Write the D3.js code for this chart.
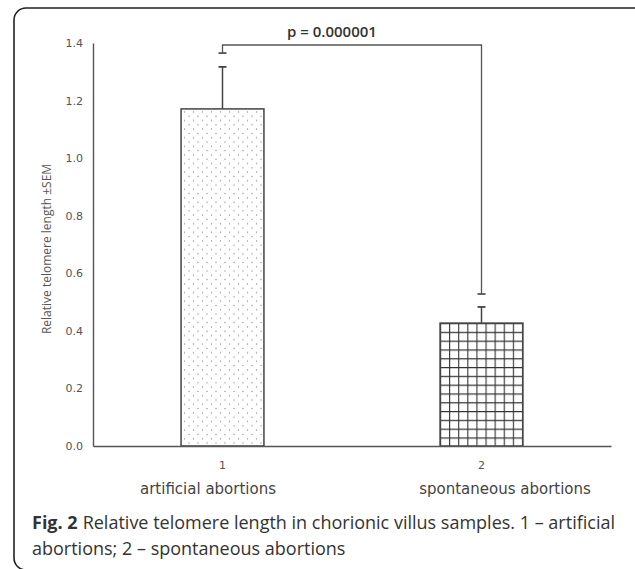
<!DOCTYPE html>
<html>
<head>
<meta charset="utf-8">
<script src="https://cdn.jsdelivr.net/npm/d3@7"></script>
<style>
  body { margin: 0; background: #fff; }
  svg { display: block; }
</style>
</head>
<body>
<svg width="635" height="569"></svg>
<script>
// Values
const groups = ["1", "2"];
const groupNames = ["artificial abortions", "spontaneous abortions"];
const means = [1.171, 0.427];
const sems = [0.146, 0.056];
const yTicks = [0, 0.2, 0.4, 0.6, 0.8, 1.0, 1.2, 1.4];
const bracketTop = 1.393;
const bracketEnds = [1.365, 0.528];
const pLabel = "p = 0.000001";

const svg = d3.select("svg"),
      width = 635,
      height = 569;

const plot = { left: 93, right: 611, top: 43, bottom: 446 };

// card border
svg.append("rect")
  .attr("x", 14).attr("y", 8)
  .attr("width", 634).attr("height", 562)
  .attr("rx", 12)
  .attr("fill", "none")
  .attr("stroke", "#222")
  .attr("stroke-width", 1.6);

// patterns
const defs = svg.append("defs");
const dots = defs.append("pattern")
  .attr("id", "dots")
  .attr("patternUnits", "userSpaceOnUse")
  .attr("x", 183).attr("y", 110)
  .attr("width", 9).attr("height", 8.6);
dots.append("circle").attr("cx", 1.5).attr("cy", 2).attr("r", 0.7).attr("fill", "#8a8a8a");
dots.append("circle").attr("cx", 6).attr("cy", 6.3).attr("r", 0.7).attr("fill", "#8a8a8a");

const grid = defs.append("pattern")
  .attr("id", "grid")
  .attr("patternUnits", "userSpaceOnUse")
  .attr("x", 440).attr("y", 323)
  .attr("width", 9.1).attr("height", 8.8);
grid.append("path")
  .attr("d", "M0,0H9.1M0,0V8.8")
  .attr("stroke", "#333")
  .attr("stroke-width", 2.2)
  .attr("fill", "none");

const x = d3.scaleBand()
  .domain(groups)
  .range([plot.left, plot.right])
  .paddingInner(0.68)
  .paddingOuter(0.34);

const y = d3.scaleLinear()
  .domain([0, 1.4])
  .range([plot.bottom, plot.top]);

const g = svg.append("g");

// bars
g.selectAll("rect.bar")
  .data(groups)
  .join("rect")
  .attr("class", "bar")
  .attr("x", d => x(d))
  .attr("y", (d, i) => y(means[i]))
  .attr("width", x.bandwidth())
  .attr("height", (d, i) => y(0) - y(means[i]))
  .attr("fill", (d, i) => i === 0 ? "url(#dots)" : "url(#grid)")
  .attr("stroke", "#444")
  .attr("stroke-width", 1.5);

// error bars (upper only)
const cx = d => x(d) + x.bandwidth() / 2;
groups.forEach((d, i) => {
  const top = y(means[i] + sems[i]);
  g.append("line")
    .attr("x1", cx(d)).attr("x2", cx(d))
    .attr("y1", y(means[i])).attr("y2", top)
    .attr("stroke", "#444").attr("stroke-width", 1.5);
  g.append("line")
    .attr("x1", cx(d) - 4).attr("x2", cx(d) + 4)
    .attr("y1", top).attr("y2", top)
    .attr("stroke", "#444").attr("stroke-width", 1.8);
});

// significance bracket
const bx0 = cx(groups[0]), bx1 = cx(groups[1]);
g.append("path")
  .attr("d", `M${bx0},${y(bracketEnds[0])}V${y(bracketTop)}H${bx1}V${y(bracketEnds[1])}`)
  .attr("fill", "none")
  .attr("stroke", "#555")
  .attr("stroke-width", 1.3);
[bx0, bx1].forEach((bx, i) => {
  g.append("line")
    .attr("x1", bx - 4).attr("x2", bx + 4)
    .attr("y1", y(bracketEnds[i])).attr("y2", y(bracketEnds[i]))
    .attr("stroke", "#555").attr("stroke-width", 1.8);
});
svg.append("text")
  .attr("x", 332)
  .attr("y", 37)
  .attr("text-anchor", "middle")
  .attr("font-family", "Open Sans, sans-serif")
  .attr("font-size", 15)
  .attr("font-weight", 600)
  .attr("fill", "#333")
  .text(pLabel);

// axes
const yAxis = g.append("g")
  .attr("transform", `translate(${plot.left},0)`)
  .call(d3.axisLeft(y).tickValues(yTicks).tickSize(0).tickPadding(10).tickFormat(d3.format(".1f")));
const xAxis = g.append("g")
  .attr("transform", `translate(0,${plot.bottom})`)
  .call(d3.axisBottom(x).tickSize(0).tickPadding(15));

[yAxis, xAxis].forEach(a => {
  a.select(".domain").attr("stroke", "#555").attr("stroke-width", 1.4);
  a.selectAll("text")
    .attr("font-family", "DejaVu Sans, sans-serif")
    .attr("font-size", 11)
    .attr("fill", "#555");
});

// category names below tick numbers
const nameX = [208, 505];
svg.selectAll("text.gname")
  .data(groupNames)
  .join("text")
  .attr("class", "gname")
  .attr("x", (d, i) => nameX[i])
  .attr("y", 494)
  .attr("text-anchor", "middle")
  .attr("font-family", "DejaVu Sans, sans-serif")
  .attr("font-size", 15)
  .attr("fill", "#444")
  .text(d => d);

// y label
svg.append("text")
  .attr("transform", "rotate(-90)")
  .attr("x", -249)
  .attr("y", 51)
  .attr("text-anchor", "middle")
  .attr("font-family", "Open Sans, sans-serif")
  .attr("font-size", 12)
  .attr("fill", "#555")
  .text("Relative telomere length \u00b1SEM");

// caption
const capFont = { family: "Open Sans, sans-serif", size: 18, fill: "#333" };
const figLabel = svg.append("text")
  .attr("x", 32).attr("y", 529)
  .attr("font-family", capFont.family)
  .attr("font-size", capFont.size)
  .attr("font-weight", 700)
  .attr("fill", capFont.fill)
  .text("Fig. 2");
const figW = figLabel.node().getComputedTextLength();
svg.append("text")
  .attr("x", 32 + figW + 5).attr("y", 529)
  .attr("font-family", capFont.family)
  .attr("font-size", capFont.size)
  .attr("fill", capFont.fill)
  .text("Relative telomere length in chorionic villus samples. 1 \u2013 artificial");
svg.append("text")
  .attr("x", 32).attr("y", 555)
  .attr("font-family", capFont.family)
  .attr("font-size", capFont.size)
  .attr("fill", capFont.fill)
  .text("abortions; 2 \u2013 spontaneous abortions");
</script>
</body>
</html>
